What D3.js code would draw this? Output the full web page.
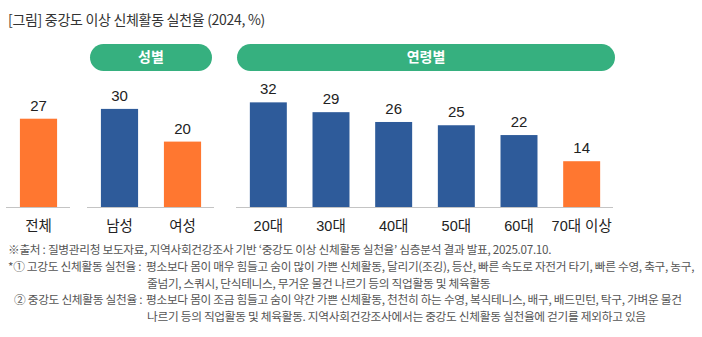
<!DOCTYPE html>
<html>
<head>
<meta charset="utf-8">
<script src="https://cdn.jsdelivr.net/npm/d3@7"></script>
<style>
  body { margin: 0; background: #fff; }
  svg { display: block; font-family: "Liberation Sans", "Noto Sans CJK KR", sans-serif; }
</style>
</head>
<body>
<div id="chart-area"></div>
<script>
// values
const categories = ["전체", "남성", "여성", "20대", "30대", "40대", "50대", "60대", "70대 이상"]
const values = [27, 30, 20, 32, 29, 26, 25, 22, 14]
const groupOf = ["total", "sex", "sex", "age", "age", "age", "age", "age", "age"]
const highlighted = ["전체", "여성", "70대 이상"]
const groupLabels = { sex: "성별", age: "연령별" }

const titleText = "[그림] 중강도 이상 신체활동 실천율 (2024, %)"
const notes = [
  { x: 8, text: "※출처 : 질병관리청 보도자료, 지역사회건강조사 기반 ‘중강도 이상 신체활동 실천율’ 심층분석 결과 발표, 2025.07.10." },
  { x: 8, text: "*① 고강도 신체활동 실천율 :", rest: "평소보다 몸이 매우 힘들고 숨이 많이 가쁜 신체활동, 달리기(조깅), 등산, 빠른 속도로 자전거 타기, 빠른 수영, 축구, 농구," },
  { x: 147, text: "줄넘기, 스쿼시, 단식테니스, 무거운 물건 나르기 등의 직업활동 및 체육활동" },
  { x: 14, text: "② 중강도 신체활동 실천율 :", rest: "평소보다 몸이 조금 힘들고 숨이 약간 가쁜 신체활동, 천천히 하는 수영, 복식테니스, 배구, 배드민턴, 탁구, 가벼운 물건" },
  { x: 147, text: "나르기 등의 직업활동 및 체육활동. 지역사회건강조사에서는 중강도 신체활동 실천율에 걷기를 제외하고 있음" }
]

const WIDTH = 702, HEIGHT = 337
const BASE = 207
const BLUE = "#2e5b9a", ORANGE = "#ff7730", GREEN = "#36b07f"

const svg = d3.select("#chart-area").append("svg")
  .attr("width", WIDTH)
  .attr("height", HEIGHT)

// title
svg.append("text")
  .attr("x", 8).attr("y", 25)
  .attr("font-family", "Noto Sans CJK KR")
  .attr("font-size", "14px")
  .attr("letter-spacing", "-0.3px")
  .attr("fill", "#333")
  .text(titleText)

const data = categories.map((c, i) => ({ cat: c, value: values[i], group: groupOf[i] }))

// y scale
const y = d3.scaleLinear().domain([0, 35]).range([BASE, BASE - 35 * 3.27])

// each group has its own strip of the x axis
const groupRange = { total: [7, 70], sex: [88, 214], age: [237, 613] }
const pillRange = { sex: [90, 212], age: [237, 615] }

Object.keys(groupRange).forEach(gk => {
  const rows = data.filter(d => d.group === gk)
  const x = d3.scaleBand()
    .domain(rows.map(d => d.cat))
    .range(groupRange[gk])
    .paddingInner(0.41)
    .paddingOuter(0.205)

  const g = svg.append("g")

  // baseline
  g.append("line")
    .attr("x1", groupRange[gk][0] - 1).attr("x2", groupRange[gk][1])
    .attr("y1", BASE + 0.5).attr("y2", BASE + 0.5)
    .attr("stroke", "#c4c4c4").attr("stroke-width", 1)

  g.selectAll("rect.bar").data(rows).enter().append("rect")
    .attr("class", "bar")
    .attr("x", d => x(d.cat))
    .attr("width", x.bandwidth())
    .attr("y", d => y(d.value))
    .attr("height", d => BASE - y(d.value))
    .attr("fill", d => highlighted.includes(d.cat) ? ORANGE : BLUE)

  g.selectAll("text.val").data(rows).enter().append("text")
    .attr("class", "val")
    .attr("x", d => x(d.cat) + x.bandwidth() / 2)
    .attr("y", d => y(d.value) - 8)
    .attr("text-anchor", "middle")
    .attr("font-size", "15px")
    .attr("fill", "#222")
    .text(d => d.value)

  g.selectAll("text.cat").data(rows).enter().append("text")
    .attr("class", "cat")
    .attr("x", d => x(d.cat) + x.bandwidth() / 2)
    .attr("y", 231)
    .attr("text-anchor", "middle")
    .attr("font-size", "14.5px")
    .attr("fill", "#222")
    .text(d => d.cat)

  // group pill
  if (groupLabels[gk]) {
    const [p0, p1] = pillRange[gk]
    g.append("rect")
      .attr("x", p0).attr("y", 44)
      .attr("width", p1 - p0).attr("height", 27)
      .attr("rx", 13.5)
      .attr("fill", GREEN)
    g.append("text")
      .attr("x", (p0 + p1) / 2).attr("y", 62)
      .attr("text-anchor", "middle")
      .attr("font-family", "Noto Sans CJK KR")
      .attr("font-weight", "bold")
      .attr("font-size", "14px")
      .attr("fill", "#fff")
      .text(groupLabels[gk])
  }
})

// footnotes
const noteY = [254, 271, 288, 304, 321]
notes.forEach((n, i) => {
  svg.append("text")
    .attr("x", n.x).attr("y", noteY[i])
    .attr("font-family", "Noto Sans CJK KR")
    .attr("font-size", "11.7px")
    .attr("letter-spacing", "-0.3px")
    .attr("fill", "#555")
    .text(n.text)
  if (n.rest) {
    svg.append("text")
      .attr("x", 146).attr("y", noteY[i])
      .attr("font-family", "Noto Sans CJK KR")
      .attr("font-size", "11.7px")
      .attr("letter-spacing", "-0.3px")
      .attr("fill", "#555")
      .text(n.rest)
  }
})
</script>
</body>
</html>
